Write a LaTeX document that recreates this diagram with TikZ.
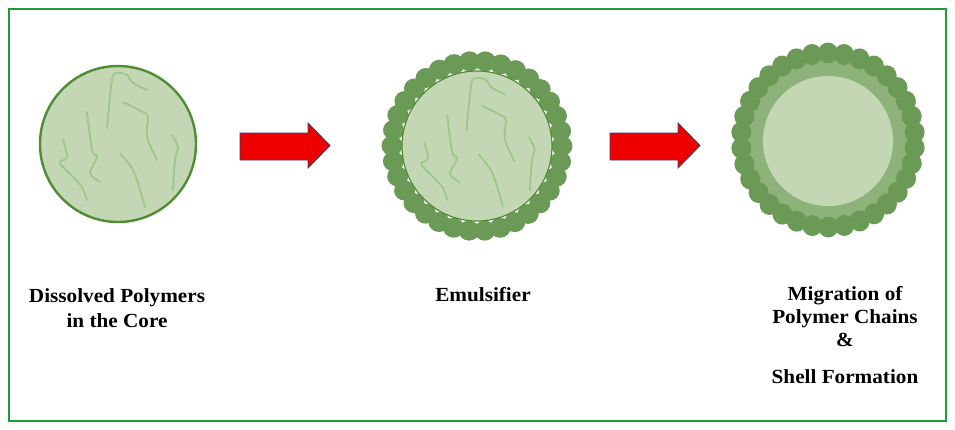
\documentclass[tikz,border=0pt]{standalone}
\usepackage{fontspec}
\setmainfont{Liberation Serif}[FakeStretch=1.06]
\definecolor{frame}{RGB}{32,155,55}
\definecolor{core}{RGB}{195,215,180}
\definecolor{coreedge}{RGB}{80,140,50}
\definecolor{chain}{RGB}{158,200,138}
\definecolor{bead}{RGB}{107,154,87}
\definecolor{ring}{RGB}{141,178,122}
\definecolor{arrowred}{RGB}{238,0,0}
\definecolor{arrowedge}{RGB}{60,62,105}
\tikzset{
  framebox/.style={draw=frame, line width=2},
  coredisk/.style={circle, fill=core, inner sep=0pt},
  chainline/.style={draw=chain, line width=1.9, line cap=round},
  beaddot/.style={fill=bead},
  blockarrow/.style={fill=arrowred, draw=arrowedge, line width=0.8, line join=miter},
  label/.style={font=\bfseries\fontsize{20}{24}\selectfont, anchor=base, inner sep=0pt}
}
\newcommand\polychains{%
  \draw[chainline] plot[smooth] coordinates {(-11,-16)(-6,-64)(-1,-71)(9,-69)(15,-61)(29,-54)};
  \draw[chainline] plot[smooth] coordinates {(5,-42)(25,-32)(30,-27)(29,-7)(39,16)};
  \draw[chainline] plot[smooth] coordinates {(-31,-32)(-26,6)(-21,13)(-28,29)(-18,38)};
  \draw[chainline] plot[smooth] coordinates {(-55,-4)(-51,13)(-58,19)(-45,33)(-36,43)(-31,56)};
  \draw[chainline] plot[smooth] coordinates {(2,9)(15,26)(22,46)(27,63)};
  \draw[chainline] plot[smooth] coordinates {(54,-9)(60,3)(57,16)(55,46)};
}
\begin{document}
\begin{tikzpicture}[x=1pt, y=-1pt]
\useasboundingbox (0,0) rectangle (955,429);
\fill[white] (0,0) rectangle (955,429);
\draw[framebox] (9,9) rectangle (946,421);

% ---- stage 1 ----
\node[coredisk, draw=coreedge, line width=2.4, minimum size=156] (c1) at (118,144) {};
\begin{scope}[shift={(118,144)}]
  \polychains
\end{scope}

% ---- stage 2 ----
\foreach \a in {0,10.6,...,359} {
  \fill[beaddot] (477,146) ++(\a:85) circle[x radius=10.5, y radius=10];
}
\node[coredisk, draw=coreedge, line width=1.2, minimum size=150] (c2) at (477,146) {};
\begin{scope}[shift={(477,146)}, scale=0.96]
  \polychains
\end{scope}

% ---- stage 3 ----
\fill[ring] (828,140) circle[radius=88];
\foreach \a in {5,15.6,...,364} {
  \fill[beaddot] (828,140) ++(\a:87) circle[x radius=10, y radius=10.5];
}
\node[coredisk, minimum size=130] (c3) at (828,141) {};

% ---- arrows ----
\coordinate (a1) at (240,133);
\coordinate (a2) at (610,133);
\foreach \s in {a1,a2} {
  \draw[blockarrow] (\s) -- ++(68,0) -- ++(0,-10) -- ++(22,22.5) -- ++(-22,22.5) -- ++(0,-8) -- ++(-68,0) -- cycle;
}

% ---- labels ----
\node[label] (t1a) at (117,302) {Dissolved Polymers};
\node[label] (t1b) at (117,327) {in the Core};
\node[label] (t2) at (483,301) {Emulsifier};
\node[label] (t3a) at (845,300) {Migration of};
\node[label] (t3b) at (845,323) {Polymer Chains};
\node[label] (t3c) at (845,346) {\&};
\node[label] (t3d) at (845,383) {Shell Formation};
\end{tikzpicture}
\end{document}
